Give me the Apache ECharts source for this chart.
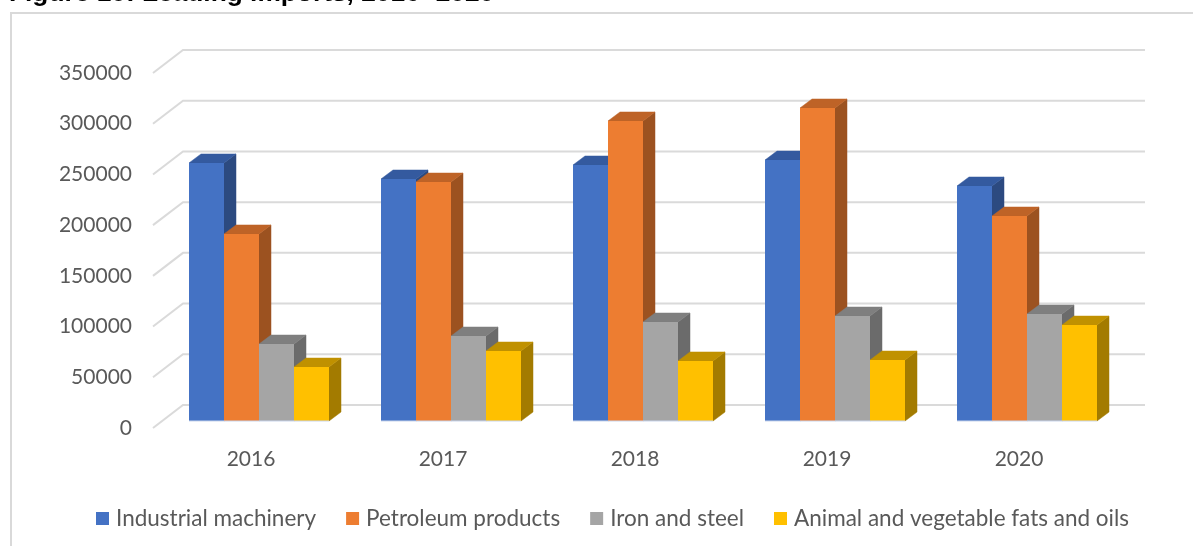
<!DOCTYPE html>
<html><head><meta charset="utf-8">
<style>html,body{margin:0;padding:0;background:#fff}#c{width:1193px;height:546px}</style>
<script src="https://cdn.jsdelivr.net/npm/echarts@6/dist/echarts.min.js"></script>
</head><body><div id="c"></div>
<script>
const categories = ['2016','2017','2018','2019','2020'];
const tickValues = [0,50000,100000,150000,200000,250000,300000,350000];
const industrialMachinery = [254400,238600,252400,257300,231700];
const petroleumProducts = [184400,235600,295800,308600,202100];
const ironAndSteel = [75900,83800,97600,103500,105500];
const fatsAndOils = [53200,69000,59200,60100,94600];
const seriesNames = ['Industrial machinery','Petroleum products','Iron and steel','Animal and vegetable fats and oils'];
const seriesValues = [industrialMachinery,petroleumProducts,ironAndSteel,fatsAndOils];
const faceColors = ['#4472C4','#ED7D31','#A5A5A5','#FFC000'];
const topColors = ['#345A9F','#BE6327','#7F7F7F','#C09100'];
const sideColors = ['#2C4A80','#9C5220','#6B6B6B','#A37B00'];

const wallDx = 30, wallDy = -23, barDx = 12, barDy = -9, shiftX = 8, shiftY = -7, barW = 35;
const chart = echarts.init(document.getElementById('c'), null, {renderer:'canvas'});

function poly(points, fill){
  return {type:'polygon', shape:{points}, style:{fill, stroke:fill, lineWidth:0.5}};
}
const barSeries = seriesNames.map((name,si)=>({
  name, type:'custom', coordinateSystem:'cartesian2d', z:5,
  itemStyle:{color:faceColors[si]},
  encode:{x:0,y:1},
  data: categories.map((c,i)=>[c,seriesValues[si][i]]),
  renderItem(params,api){
    const top = api.coord([api.value(0),api.value(1)]);
    const base = api.coord([api.value(0),0]);
    const x0 = top[0] + shiftX + (si-2)*barW, x1 = x0 + barW;
    const y0 = top[1] + shiftY, y1 = base[1] + shiftY;
    return {type:'group', children:[
      poly([[x1,y0],[x1+barDx,y0+barDy],[x1+barDx,y1+barDy],[x1,y1]], sideColors[si]),
      poly([[x0,y0],[x0+barDx,y0+barDy],[x1+barDx,y0+barDy],[x1,y0]], topColors[si]),
      {type:'rect', shape:{x:x0,y:y0,width:barW,height:y1-y0}, style:{fill:faceColors[si]}},
      {type:'line', shape:{x1:x0,y1:y1,x2:x1,y2:y1}, style:{stroke:'#C9D5EC',lineWidth:1}}
    ]};
  }
}));

const wallSeries = {
  name:'walls', type:'custom', coordinateSystem:'cartesian2d', z:1, silent:true,
  data: tickValues.map(v=>[categories[0],v]),
  encode:{x:0,y:1},
  renderItem(params,api){
    const rect = params.coordSys;
    const y = api.coord([api.value(0),api.value(1)])[1];
    const xL = rect.x, xR = rect.x + rect.width;
    const st = {stroke:'#DADADA', lineWidth:2, fill:'none'};
    return {type:'polyline', shape:{points:[[xL-2,y],[xL+wallDx-2,y+wallDy],[xR+wallDx,y+wallDy]]}, style:st};
  },
  clip:false
};

chart.setOption({
  animation:false,
  backgroundColor:'#fff',
  graphic:[
    {type:'rect', z:0, shape:{x:11,y:13,width:1300,height:600}, style:{fill:'#fff',stroke:'#D9D9D9',lineWidth:2}},
    {type:'text', z:10, left:9, top:-19, style:{text:'Figure 10: Leading imports, 2016- 2020', font:'bold 26.3px "Liberation Sans"', fill:'#000'}}
  ],
  grid:{left:155,right:78,top:73,bottom:118,containLabel:false},
  legend:{
    data:seriesNames, left:91, top:502, itemWidth:13, itemHeight:13, itemGap:30,
    icon:'rect', textStyle:{fontFamily:'Lato',fontSize:22.5,color:'#595959',padding:[0,0,0,2]}
  },
  xAxis:{type:'category',data:categories,axisLine:{show:false},axisTick:{show:false},
    axisLabel:{fontFamily:'Lato',fontSize:21,color:'#595959',margin:21}},
  yAxis:{type:'value',min:0,max:350000,interval:50000,axisLine:{show:false},axisTick:{show:false},splitLine:{show:false},
    axisLabel:{fontFamily:'Lato',fontSize:21,color:'#595959',margin:23,formatter:v=>String(v)}},
  series:[wallSeries,...barSeries]
});
</script></body></html>
